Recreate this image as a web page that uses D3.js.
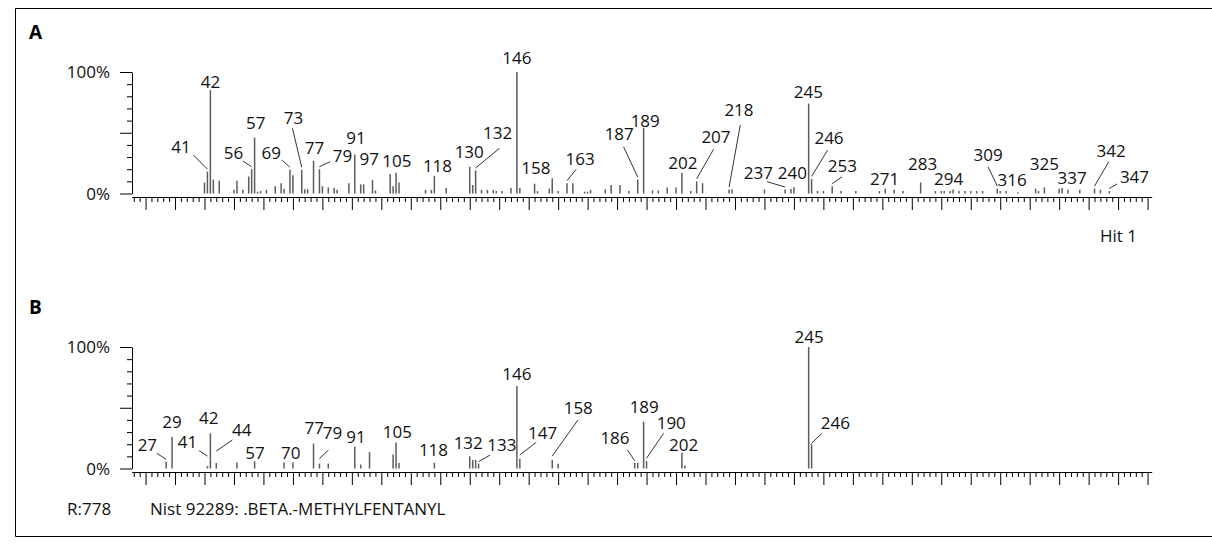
<!DOCTYPE html>
<html lang="en">
<head>
<meta charset="UTF-8">
<title>Mass spectra A / B</title>
<script src="https://d3js.org/d3.v7.min.js"></script>
<style>
  body { margin: 0; background: #fff; }
  svg { display: block; font-family: 'Open Sans', 'Noto Sans', sans-serif; }
  .peak { stroke: #5c5c5c; stroke-width: 1.5; }
  .lead { stroke: #333; stroke-width: 1; }
  .lbl { font-size: 17px; fill: #111; text-anchor: middle; }
  .axis path, .axis line { stroke: #000; }
  .txt { font-size: 17px; fill: #111; }
</style>
</head>
<body>
<script>
// ---- data: panel A (Hit 1) ----
const massesA = [40,41,42,43,45,50,51,53,55,56,57,58,59,61,64,66,67,69,70,73,74,75,77,79,80,82,84,85,89,91,
  93,94,97,98,103,104,105,106,115,117,118,122,130,131,132,134,136,138,139,141,144,146,147,152,153,157,158,160,
  163,165,169,170,171,176,178,181,184,187,189,192,194,197,200,202,205,207,209,218,219,230,237,239,240,245,246,
  248,250,253,256,261,269,271,274,277,283,288,290,291,293,294,296,298,300,302,304,309,310,312,316,322,323,325,
  330,331,333,337,342,344,347];
const intensA = [9,18,85,11.5,10.5,3,10.5,3,14,20,46,1.5,2,3,6,8.5,4,19.5,15,19.5,3.5,3.5,27,20,6,5,4.5,3,8.5,32,
  7.5,7.5,11,2.5,16,6,17,9,3,3,14.5,4.5,22,7,19,3,3,3,2,2,4.5,100,4.5,8,2,4,12.5,2,
  8.5,8.5,1.5,1.5,3,3.5,7,7,2,11.5,54,2.5,2.5,5,5,17,2,10,8.5,3.3,3.3,3.3,3.3,3.8,5.2,74,12,
  2,2,6,2,2,2,4,3,2,9,2,2,2,2,3.3,2,2,2,2,2,4,2,2,1,4,2,5,
  4,4.5,3,3,4,3,2];
const labelsA = [41,42,56,57,69,73,77,79,91,97,105,118,130,132,146,158,163,187,189,202,207,218,237,240,245,246,
  253,271,283,294,309,316,325,337,342,347];

// ---- data: panel B (library spectrum) ----
const massesB = [27,29,41,42,44,51,57,67,70,77,79,82,91,93,96,104,105,106,118,130,131,132,133,146,147,158,160,
  186,187,189,190,202,203,245,246];
const intensB = [5.5,26,2,29,4.5,5,6,5,5,20.5,4,4,18,3.3,13.5,11.5,21.5,4.5,4.7,10,7,7,4,68,8,7,4,
  4.7,4.7,38.5,6,13,2.5,100,20];
const labelsB = [27,29,41,42,44,57,70,77,79,91,105,118,132,133,146,147,158,186,189,190,202,245,246];

const yTickVals = [0,10,20,30,40,50,60,70,80,90,100];
const yMajor = [0,50,100];
const yLabelVals = [0,100];
const xMinorTicks = d3.range(16, 361, 2);

// ---- layout: label offsets from peak top [dx, dy, leaderX, leaderY, gap] ----
const placeA = {
  41:[-26.4,-24.9,12.3,8.3], 42:[0,-8.5], 56:[-18.2,-15.9,9.4,7.7], 57:[1.2,-14.3],
  69:[-18.8,-16.5,10.7,6.7], 73:[-8.3,-51.5,-1,10], 77:[0.9,-13], 79:[23,-13.2,-12.3,5.7],
  91:[1.3,-16.9], 97:[-3.3,-20.8], 105:[0.8,-11.8], 118:[3.1,-9.9], 130:[-0.5,-15.1],
  132:[21.9,-37.1,2,15], 146:[0,-13.7], 158:[-16.3,-10.6], 163:[13.2,-24.2,-4,10.3],
  187:[-18.5,-45.2,4.3,12.4], 189:[1.6,-7], 202:[1,-9.5], 207:[19.3,-44.7,-2.4,12.6],
  218:[9.9,-79.5,1.3,15], 237:[-26.8,-16.2,8.7,8.4], 240:[-1.6,-13.9], 245:[-0.3,-11.3],
  246:[17.4,-40.6,-1.4,11.7], 253:[10.1,-20.2,-0.3,10.7], 271:[-0.6,-9.3], 283:[2,-18.3],
  294:[-4.4,-10.2], 309:[-9.2,-33.6,0,11.7], 316:[-5.8,-12.3], 325:[0,-23.4], 337:[-7.7,-11.6],
  342:[16.6,-37.6,-2.4,10.7], 347:[25.2,-14.4,-17.3,7.3]
};
const placeB = {
  27:[-18.8,-16.8,9.4,8.3], 29:[0,-14.6], 41:[-20,-24.4,11.7,9,10], 42:[-1.6,-15],
  44:[25.5,-33,-9.4,10,12], 57:[0.5,-7.9], 70:[-2.1,-9.1], 77:[0.6,-15.9], 79:[13,-30.3,-4,16.7,5],
  91:[1.3,-9.9], 105:[1.4,-10.7], 118:[-0.9,-12.8], 132:[-7.4,-16.7], 133:[23.3,-18.6,-11.7,10,2],
  146:[0,-11.9], 147:[22.7,-25.5,-6.3,9,3.8], 158:[26,-51.7,-0.3,11.7,4], 186:[-19.8,-24.5,12.6,11.7,2],
  189:[0.6,-14.4], 190:[24.7,-37.9,-7.7,10,3], 202:[1.6,-7.7], 245:[0.4,-10.3], 246:[23.7,-20.9,-13.3,10,1]
};

const W = 1212, H = 544;
const svg = d3.select("body").append("svg").attr("width", W).attr("height", H);

// frame
svg.append("path")
  .attr("d", `M${W + 5},8.5H15.5V536.5H${W + 5}`)
  .attr("fill", "none").attr("stroke", "#000");

const x = d3.scaleLinear().domain([15.3, 361.4]).range([131.7, 1151.7]);

function drawPanel(letter, letterY, base, masses, intens, labels, place) {
  const y = d3.scaleLinear().domain([0, 100]).range([base, base - 121.5]);
  const g = svg.append("g");
  const peaks = masses.map((m, i) => ({ m, v: intens[i] }));
  const byMass = new Map(peaks.map(p => [p.m, p]));

  g.append("text").attr("x", 29).attr("y", letterY)
    .style("font-size", "19px").style("font-weight", "bold").text(letter);

  // y axis
  g.append("g").attr("class", "axis").attr("transform", "translate(132,0)")
    .call(d3.axisLeft(y).tickValues(yTickVals).tickSize(5).tickSizeOuter(0).tickFormat(""))
    .call(a => a.selectAll(".tick line").filter(d => yMajor.includes(d)).attr("x2", -12));

  g.selectAll(".ylab").data(yLabelVals).join("text")
    .attr("class", "txt").attr("text-anchor", "end")
    .attr("x", 110).attr("y", d => y(d)).attr("dy", "0.36em")
    .text(d => d + "%");

  // x axis
  g.append("g").attr("class", "axis").attr("transform", `translate(0,${base + 3.5})`)
    .call(d3.axisBottom(x).tickValues(xMinorTicks).tickSize(5).tickSizeOuter(0).tickFormat(""))
    .call(a => a.selectAll(".tick line").filter(d => d % 10 === 0).attr("y2", 13));

  // peaks
  g.selectAll(".peak").data(peaks).join("line")
    .attr("class", "peak")
    .attr("x1", d => x(d.m)).attr("x2", d => x(d.m))
    .attr("y1", y(0)).attr("y2", d => y(d.v));

  // labels and leader lines
  const lab = labels.map(m => {
    const p = byMass.get(m), o = place[m];
    return { m, px: x(m), py: y(p.v), cx: x(m) + o[0], cy: y(p.v) + o[1], o };
  });
  g.selectAll(".lead").data(lab.filter(d => d.o.length > 2)).join("line")
    .attr("class", "lead")
    .attr("x1", d => d.cx + d.o[2]).attr("y1", d => d.cy + d.o[3])
    .attr("x2", d => d.px).attr("y2", d => d.py - (d.o[4] !== undefined ? d.o[4] : 2.5));
  g.selectAll(".lbl").data(lab).join("text")
    .attr("class", "lbl")
    .attr("x", d => d.cx).attr("y", d => d.cy).attr("dy", "0.36em")
    .text(d => d.m);
}

drawPanel("A", 39, 193.5, massesA, intensA, labelsA, placeA);
drawPanel("B", 314, 468.5, massesB, intensB, labelsB, placeB);

svg.append("text").attr("class", "txt").attr("x", 1100).attr("y", 242).text("Hit 1");
svg.append("text").attr("class", "txt").attr("x", 67).attr("y", 515).text("R:778");
svg.append("text").attr("class", "txt").attr("x", 150).attr("y", 515).text("Nist 92289: .BETA.-METHYLFENTANYL");
</script>
</body>
</html>
